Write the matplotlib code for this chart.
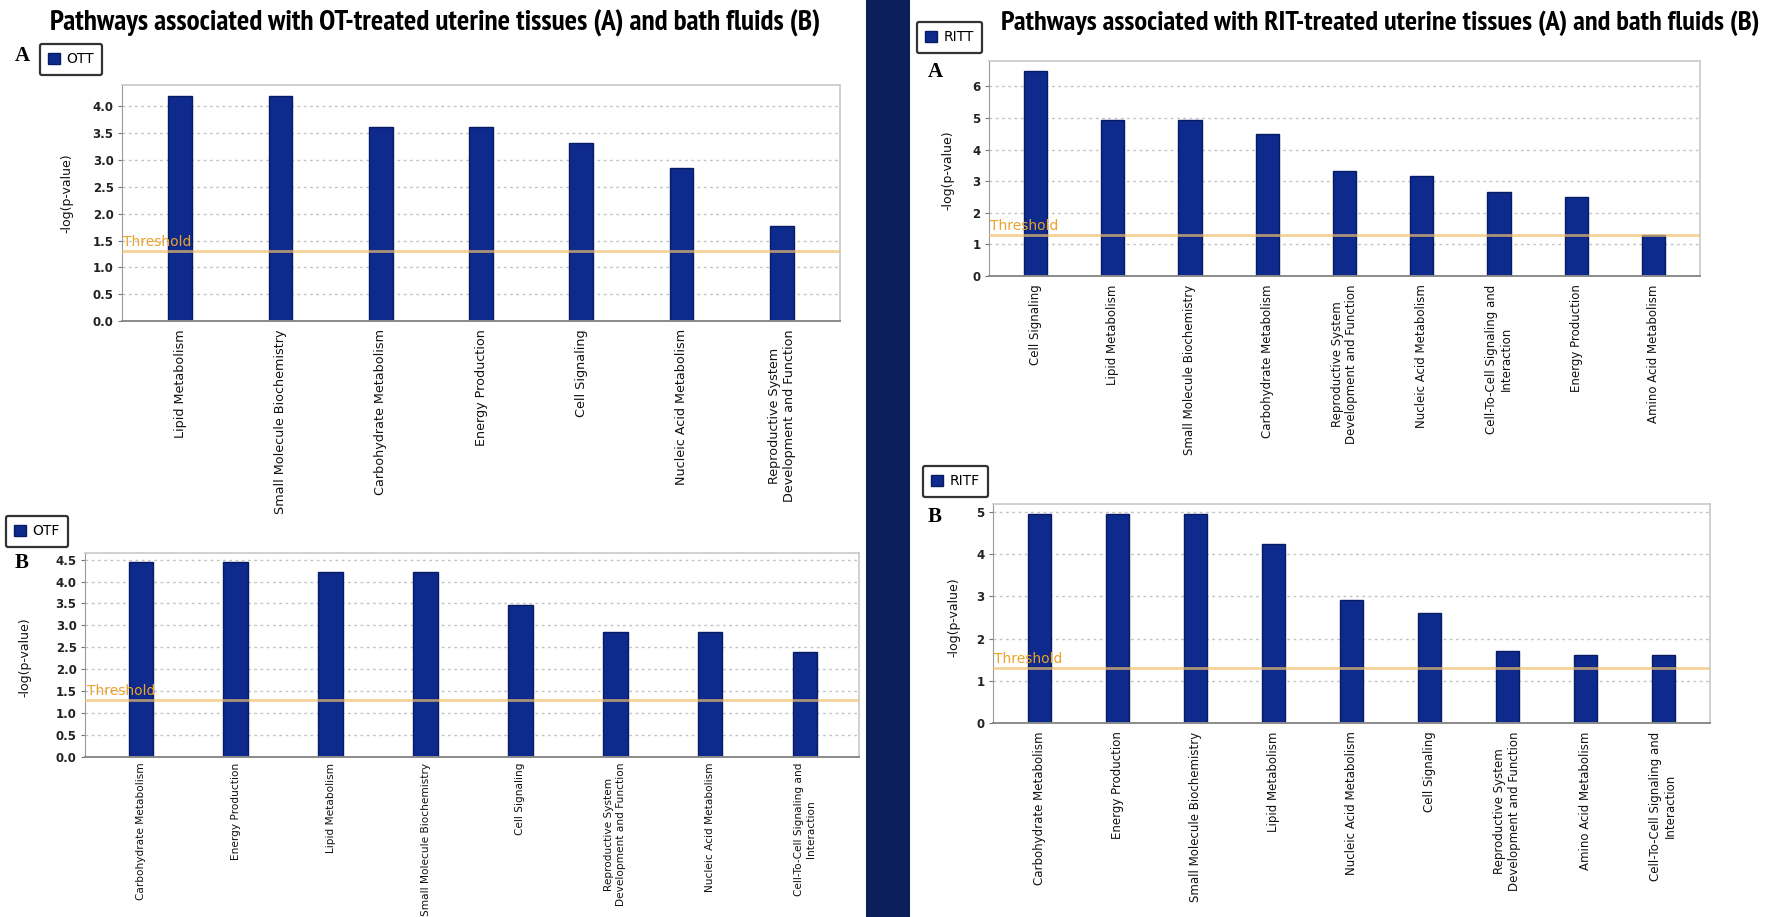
import matplotlib
matplotlib.use("Agg")
import matplotlib.pyplot as plt
from matplotlib.patches import Rectangle, Patch
from matplotlib import font_manager
from matplotlib.font_manager import FontProperties

W, H = 1775, 917
DPI = 100

# ---------------- data ----------------
ott_labels = ["Lipid Metabolism", "Small Molecule Biochemistry", "Carbohydrate Metabolism",
              "Energy Production", "Cell Signaling", "Nucleic Acid Metabolism",
              "Reproductive System\nDevelopment and Function"]
ott_values = [4.2, 4.2, 3.62, 3.62, 3.31, 2.85, 1.78]

otf_labels = ["Carbohydrate Metabolism", "Energy Production", "Lipid Metabolism",
              "Small Molecule Biochemistry", "Cell Signaling",
              "Reproductive System\nDevelopment and Function", "Nucleic Acid Metabolism",
              "Cell-To-Cell Signaling and\nInteraction"]
otf_values = [4.44, 4.44, 4.22, 4.22, 3.47, 2.86, 2.84, 2.39]

ritt_labels = ["Cell Signaling", "Lipid Metabolism", "Small Molecule Biochemistry",
               "Carbohydrate Metabolism", "Reproductive System\nDevelopment and Function",
               "Nucleic Acid Metabolism", "Cell-To-Cell Signaling and\nInteraction",
               "Energy Production", "Amino Acid Metabolism"]
ritt_values = [6.49, 4.92, 4.92, 4.5, 3.31, 3.16, 2.66, 2.5, 1.31]

ritf_labels = ["Carbohydrate Metabolism", "Energy Production", "Small Molecule Biochemistry",
               "Lipid Metabolism", "Nucleic Acid Metabolism", "Cell Signaling",
               "Reproductive System\nDevelopment and Function", "Amino Acid Metabolism",
               "Cell-To-Cell Signaling and\nInteraction"]
ritf_values = [4.95, 4.95, 4.95, 4.24, 2.92, 2.6, 1.7, 1.61, 1.61]

threshold = 1.3

ott_yticks = [0.0, 0.5, 1.0, 1.5, 2.0, 2.5, 3.0, 3.5, 4.0]
otf_yticks = [0.0, 0.5, 1.0, 1.5, 2.0, 2.5, 3.0, 3.5, 4.0, 4.5]
ritt_yticks = [0, 1, 2, 3, 4, 5, 6]
ritf_yticks = [0, 1, 2, 3, 4, 5]

left_title = "Pathways associated with OT-treated uterine tissues (A) and bath fluids (B)"
right_title = "Pathways associated with RIT-treated uterine tissues (A) and bath fluids (B)"

# ---------------- style ----------------
BAR = "#0d2a8c"
BAR_EDGE = "#071c63"
BAND = "#0a1f5c"
TH_LINE = "#f0c070"
TH_TEXT = "#eba22a"
GRID = "#c4c4c4"


def find_condensed_bold():
    cands = []
    for f in font_manager.fontManager.ttflist:
        path = f.fname.lower()
        name = f.name.lower()
        bold = (isinstance(f.weight, int) and f.weight >= 600) or str(f.weight) in ("bold", "heavy", "black", "semibold", "demibold") or "bold" in path
        if not bold:
            continue
        if "narrow" in name or "narrow" in path:
            cands.append((0, f.fname))
        elif "condensed" in path or "condensed" in name or str(f.stretch) in ("condensed", "semi-condensed", "extra-condensed"):
            if "dejavu" in path:
                cands.append((1, f.fname))
            else:
                cands.append((2, f.fname))
    cands.sort()
    if cands:
        return FontProperties(fname=cands[0][1])
    return FontProperties(family="DejaVu Sans", weight="bold")


title_fp = find_condensed_bold()

fig = plt.figure(figsize=(W / DPI, H / DPI), dpi=DPI)
fig.patch.set_facecolor("white")

# dark separator band
fig.patches.append(Rectangle((866 / W, 0), 44 / W, 1, transform=fig.transFigure,
                             facecolor=BAND, edgecolor="none", zorder=0))


def rect(l, t, r, b):
    return [l / W, 1 - b / H, (r - l) / W, (b - t) / H]


def panel(box, labels, values, yticks, ylim, xlim, width, fmt, xfs, name,
          legbox, letter_xy, letter, ylab_xy, xpad=6):
    l, t, r, b = box
    ax = fig.add_axes(rect(*box))
    x = list(range(len(values)))
    ax.bar(x, values, width=width, color=BAR, edgecolor=BAR_EDGE,
           linewidth=1.0, zorder=2, label=name)
    ax.set_xlim(*xlim)
    ax.set_ylim(*ylim)
    ax.set_yticks(yticks)
    ax.set_yticklabels([fmt.format(v) for v in yticks], fontsize=8.5,
                       fontweight="bold", color="#222222")
    ax.set_xticks(x)
    ax.set_xticklabels(labels, rotation=90, fontsize=xfs, ha="center", va="top",
                       multialignment="center", color="#111111")
    ax.tick_params(axis="x", length=0, pad=xpad)
    ax.tick_params(axis="y", length=3, width=0.8, color="#777777", pad=3)
    ax.yaxis.grid(True, linestyle=(0, (2, 2.5)), color=GRID, linewidth=1.0, zorder=0)
    ax.set_axisbelow(True)
    for s in ["top", "right"]:
        ax.spines[s].set_color("#c8c8c8")
        ax.spines[s].set_linewidth(1.2)
    ax.spines["left"].set_color("#9a9a9a")
    ax.spines["bottom"].set_color("#8a8a8a")
    ax.spines["bottom"].set_linewidth(1.4)
    ax.axhline(threshold, color=TH_LINE, linewidth=2.0, alpha=0.7, zorder=3)
    ax.text(0.002, threshold + (ylim[1] - ylim[0]) * 0.008, "Threshold",
            transform=ax.get_yaxis_transform(), fontsize=10, color=TH_TEXT,
            ha="left", va="bottom", zorder=4)
    ax.set_ylabel("-log(p-value)", fontsize=9, color="#111111")
    ax.yaxis.set_label_coords((ylab_xy[0] - l) / (r - l), 1 - (ylab_xy[1] - t) / (b - t))
    # legend box
    lx, ly = legbox
    leg = ax.legend(handles=[Patch(facecolor=BAR, edgecolor=BAR_EDGE)], labels=[name],
                    loc="upper left", bbox_to_anchor=(lx / W, 1 - ly / H),
                    bbox_transform=fig.transFigure, borderaxespad=0,
                    fontsize=10, handlelength=0.85, handleheight=0.85,
                    handletextpad=0.45, borderpad=0.6, frameon=True, fancybox=True)
    fr = leg.get_frame()
    fr.set_edgecolor("black")
    fr.set_linewidth(1.6)
    fr.set_boxstyle("round,pad=0,rounding_size=0.15")
    # panel letter
    fig.text(letter_xy[0] / W, 1 - letter_xy[1] / H, letter, fontsize=15,
             fontweight="bold", family=["Liberation Serif", "DejaVu Serif"],
             ha="center", va="center")
    return ax


panel((122, 85, 840, 321), ott_labels, ott_values, ott_yticks, (0, 4.4), (-0.58, 6.58),
      0.235, "{:.1f}", 9.2, "OTT", (40, 44), (22, 56), "A", (73, 193))
panel((85, 553, 859, 757), otf_labels, otf_values, otf_yticks, (0, 4.65), (-0.59, 7.57),
      0.26, "{:.1f}", 7.6, "OTF", (6, 516), (22, 563), "B", (31, 657), xpad=4)
panel((989, 61, 1700, 276), ritt_labels, ritt_values, ritt_yticks, (0, 6.8), (-0.6, 8.6),
      0.30, "{:d}", 8.5, "RITT", (917, 22), (935, 72), "A", (954, 170))
panel((993, 504, 1710, 723), ritf_labels, ritf_values, ritf_yticks, (0, 5.19), (-0.6, 8.6),
      0.30, "{:d}", 8.5, "RITF", (923, 466), (935, 517), "B", (960, 617))

# titles, scaled to match target widths
renderer = fig.canvas.get_renderer()
for txt, cx, target in [(left_title, 435, 771), (right_title, 1380, 759)]:
    fp = title_fp.copy()
    fp.set_size(16)
    t = fig.text(cx / W, 1 - 23 / H, txt, fontproperties=fp,
                 ha="center", va="center", color="black")
    wpx = t.get_window_extent(renderer).width
    t.set_fontsize(16 * target / wpx)

fig.savefig("out.png", dpi=DPI, facecolor="white")
